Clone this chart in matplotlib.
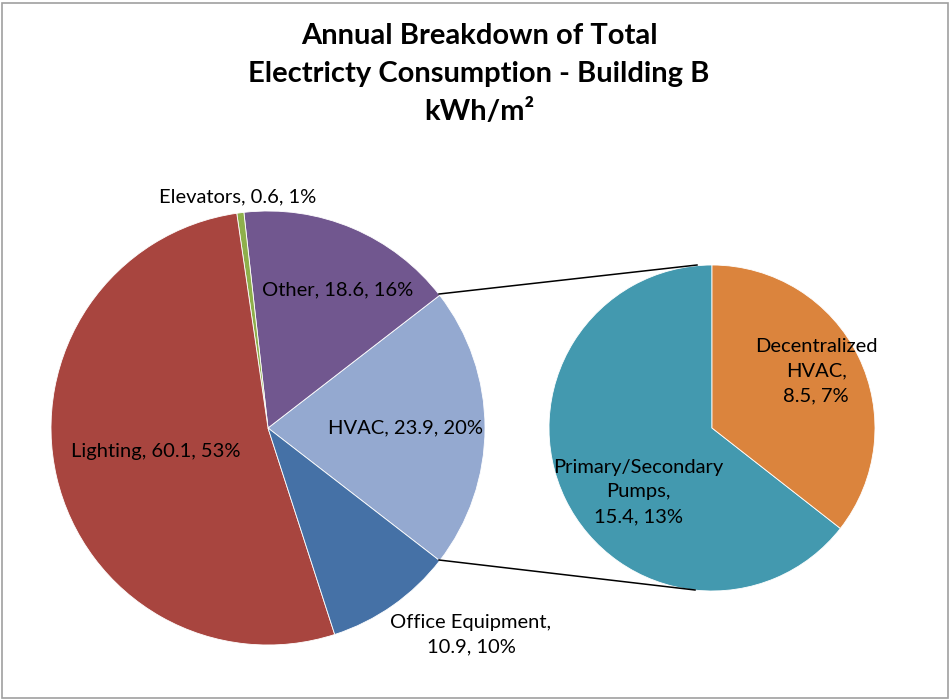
import matplotlib.pyplot as plt
from matplotlib.patches import Rectangle

plt.rcParams['font.family'] = ['Lato', 'DejaVu Sans']

# main pie (counter-clockwise from the right edge of HVAC)
main_names = ['HVAC', 'Other', 'Elevators', 'Lighting', 'Office Equipment']
main_values = [23.9, 18.6, 0.6, 60.1, 10.9]
main_pcts = [20, 16, 1, 53, 10]
main_colors = ['#94A9D0', '#71578F', '#8EAF4B', '#A8453F', '#4571A6']

# secondary pie (split of HVAC)
sub_names = ['Primary/Secondary\nPumps', 'Decentralized\nHVAC']
sub_values = [15.4, 8.5]
sub_pcts = [13, 7]
sub_colors = ['#4399AF', '#DB843D']

W, H = 951, 700
fig = plt.figure(figsize=(W / 100, H / 100), dpi=100)
ax = fig.add_axes([0, 0, 1, 1])

def py(y):
    # pixel row -> data y
    return H - y

main_c = (268, py(428))
main_r = 217
sub_c = (712, py(428))
sub_r = 163

hvac_angle = main_values[0] / sum(main_values) * 360
ax.pie(main_values, colors=main_colors, startangle=-hvac_angle / 2,
       center=main_c, radius=main_r, counterclock=True,
       wedgeprops=dict(edgecolor='white', linewidth=0.6))
ax.pie(sub_values, colors=sub_colors, startangle=90,
       center=sub_c, radius=sub_r, counterclock=True,
       wedgeprops=dict(edgecolor='white', linewidth=0.6))

# connector lines
ax.plot([439, 697], [py(294), py(265)], color='black', lw=1.1)
ax.plot([439, 695], [py(560), py(590)], color='black', lw=1.1)

fs = 14.5
ls = 1.55
lbl = {}
for n, v, p in zip(main_names, main_values, main_pcts):
    lbl[n] = f'{n}, {v}, {p}%'
lbl['Office Equipment'] = f'Office Equipment,\n{main_values[4]}, {main_pcts[4]}%'

ax.text(238, py(197), lbl['Elevators'], ha='center', va='center', fontsize=fs)
ax.text(338, py(290), lbl['Other'], ha='center', va='center', fontsize=fs)
ax.text(406, py(428), lbl['HVAC'], ha='center', va='center', fontsize=fs)
ax.text(156, py(451), lbl['Lighting'], ha='center', va='center', fontsize=fs)
ax.text(471, py(635), lbl['Office Equipment'], ha='center', va='center',
        fontsize=fs, linespacing=ls)
ax.text(816, py(371), f'{sub_names[1]},\n{sub_values[1]}, {sub_pcts[1]}%',
        ha='center', va='center', fontsize=fs, linespacing=ls)
ax.text(638, py(492), f'{sub_names[0]},\n{sub_values[0]}, {sub_pcts[0]}%',
        ha='center', va='center', fontsize=fs, linespacing=ls)

ax.text(479, py(74), 'Annual Breakdown of Total\nElectricty Consumption - Building B\nkWh/m\u00b2',
        ha='center', va='center', fontsize=21, fontweight='bold', linespacing=1.58)

ax.set_xlim(0, W)
ax.set_ylim(0, H)
ax.set_aspect('equal')
ax.axis('off')

fig.patches.append(Rectangle((2 / W, 2 / H), (W - 5) / W, (H - 5) / H,
                             transform=fig.transFigure, fill=False,
                             edgecolor='#A0A0A0', linewidth=1.2))

fig.savefig('out.png', dpi=100)
